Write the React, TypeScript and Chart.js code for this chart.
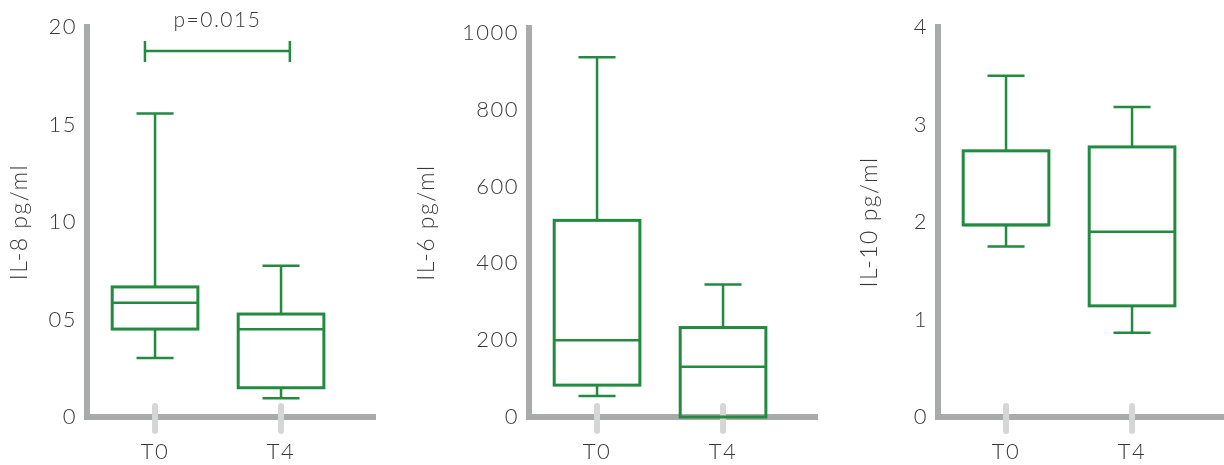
import React, { useEffect, useRef } from 'react';
import { Chart, registerables } from 'chart.js';

Chart.register(...registerables);

// ---------- data ----------
const categories = ['T0', 'T4'];
const categoryPositions = [1, 2];

// IL-8 (pg/ml)
const il8Min = [3.03, 0.96];
const il8Q1 = [4.51, 1.5];
const il8Median = [5.86, 4.5];
const il8Q3 = [6.67, 5.28];
const il8Max = [15.57, 7.76];
const il8Ticks = [0, 5, 10, 15, 20];
const il8TickLabels = ['0', '05', '10', '15', '20'];

// IL-6 (pg/ml)
const il6Min = [55, 0];
const il6Q1 = [83, 0];
const il6Median = [200, 131];
const il6Q3 = [512, 233];
const il6Max = [937, 345];
const il6Ticks = [0, 200, 400, 600, 800, 1000];
const il6TickLabels = ['0', '200', '400', '600', '800', '1000'];

// IL-10 (pg/ml)
const il10Min = [1.75, 0.865];
const il10Q1 = [1.97, 1.14];
const il10Median = [1.97, 1.9];
const il10Q3 = [2.73, 2.77];
const il10Max = [3.5, 3.18];
const il10Ticks = [0, 1, 2, 3, 4];
const il10TickLabels = ['0', '1', '2', '3', '4'];

// significance bracket on IL-8
const pValueLabel = 'p=0.015';
const bracketValue = 18.77;
const bracketFrom = 0.92;
const bracketTo = 2.07;

// ---------- style ----------
const GREEN = '#238b3f';
const AXIS = '#a9abaa';
const TICK = '#d6d6d6';
const TEXT = '#383838';
const FONT_FAMILY = 'Lato, "Open Sans", sans-serif';
const LETTER_SPACING = '1.5px';
const BOX_HALF = 0.34;
const CAP_HALF = 0.147;
const X_MIN = 0.46;
const PX_PER_CAT = 126;

type Panel = {
  title: string;
  min: number[];
  q1: number[];
  median: number[];
  q3: number[];
  max: number[];
  ticks: number[];
  tickLabels: string[];
  yMax: number;
  left: number;
  width: number;
  axisX: number;
  right: number;
  top: number;
  bracket?: boolean;
};

const panels: Panel[] = [
  {
    title: 'IL-8 pg/ml', min: il8Min, q1: il8Q1, median: il8Median, q3: il8Q3, max: il8Max,
    ticks: il8Ticks, tickLabels: il8TickLabels, yMax: 20,
    left: 0, width: 400, axisX: 87, right: 375, top: 27, bracket: true,
  },
  {
    title: 'IL-6 pg/ml', min: il6Min, q1: il6Q1, median: il6Median, q3: il6Q3, max: il6Max,
    ticks: il6Ticks, tickLabels: il6TickLabels, yMax: 1013,
    left: 407, width: 413, axisX: 529, right: 817, top: 28,
  },
  {
    title: 'IL-10 pg/ml', min: il10Min, q1: il10Q1, median: il10Median, q3: il10Q3, max: il10Max,
    ticks: il10Ticks, tickLabels: il10TickLabels, yMax: 4,
    left: 850, width: 374, axisX: 938, right: 1224, top: 27,
  },
];

const HEIGHT = 465;
const BOTTOM = 417;

function boxPlugin(p: Panel) {
  return {
    id: 'boxes',
    beforeDraw(chart: any) {
      chart.ctx.letterSpacing = LETTER_SPACING;
    },
    afterDraw(chart: any) {
      const { ctx, chartArea } = chart;
      const x = chart.scales.x;
      const y = chart.scales.y;
      ctx.save();
      // category tick marks crossing the axis
      ctx.strokeStyle = TICK;
      ctx.lineWidth = 6;
      ctx.lineCap = 'round';
      categoryPositions.forEach((v) => {
        const px = x.getPixelForValue(v);
        ctx.beginPath();
        ctx.moveTo(px, chartArea.bottom - 11);
        ctx.lineTo(px, chartArea.bottom + 14);
        ctx.stroke();
      });
      // boxes
      ctx.strokeStyle = GREEN;
      ctx.lineCap = 'butt';
      categoryPositions.forEach((v, i) => {
        const cx = x.getPixelForValue(v);
        const bl = x.getPixelForValue(v - BOX_HALF);
        const br = x.getPixelForValue(v + BOX_HALF);
        const cl = x.getPixelForValue(v - CAP_HALF);
        const cr = x.getPixelForValue(v + CAP_HALF);
        const yMin = y.getPixelForValue(p.min[i]);
        const yQ1 = y.getPixelForValue(p.q1[i]);
        const yMed = y.getPixelForValue(p.median[i]);
        const yQ3 = y.getPixelForValue(p.q3[i]);
        const yMax = y.getPixelForValue(p.max[i]);
        ctx.lineWidth = 2.5;
        ctx.beginPath();
        ctx.moveTo(cx, yQ3); ctx.lineTo(cx, yMax);
        ctx.moveTo(cl, yMax); ctx.lineTo(cr, yMax);
        if (yMin - yQ1 > 0.5) {
          ctx.moveTo(cx, yQ1); ctx.lineTo(cx, yMin);
          ctx.moveTo(cl, yMin); ctx.lineTo(cr, yMin);
        }
        ctx.stroke();
        ctx.lineWidth = 3;
        ctx.strokeRect(bl, yQ3, br - bl, yQ1 - yQ3);
        ctx.lineWidth = 2.5;
        ctx.beginPath();
        ctx.moveTo(bl, yMed); ctx.lineTo(br, yMed);
        ctx.stroke();
      });
      // significance bracket
      if (p.bracket) {
        const x1 = x.getPixelForValue(bracketFrom);
        const x2 = x.getPixelForValue(bracketTo);
        const by = y.getPixelForValue(bracketValue);
        ctx.lineWidth = 2.5;
        ctx.beginPath();
        ctx.moveTo(x1, by); ctx.lineTo(x2, by);
        ctx.moveTo(x1, by - 10); ctx.lineTo(x1, by + 11);
        ctx.moveTo(x2, by - 10); ctx.lineTo(x2, by + 11);
        ctx.stroke();
        ctx.fillStyle = TEXT;
        ctx.font = `300 21px ${FONT_FAMILY}`;
        ctx.textAlign = 'center';
        ctx.textBaseline = 'middle';
        ctx.fillText(pValueLabel, (x1 + x2) / 2, by - 31);
      }
      ctx.restore();
    },
  };
}

function BoxPanel({ p }: { p: Panel }) {
  const ref = useRef<HTMLCanvasElement>(null);
  useEffect(() => {
    const font = { family: FONT_FAMILY, size: 22, weight: '300' as any };
    const xMax = X_MIN + (p.right - p.axisX) / PX_PER_CAT;
    const chart = new Chart(ref.current as HTMLCanvasElement, {
      type: 'scatter',
      data: { datasets: [{ data: [] }] },
      options: {
        animation: false,
        responsive: false,
        maintainAspectRatio: false,
        devicePixelRatio: 1,
        layout: { padding: { left: 0, top: p.top, right: p.left + p.width - p.right, bottom: 0 } },
        plugins: { legend: { display: false }, tooltip: { enabled: false } },
        scales: {
          x: {
            type: 'linear',
            min: X_MIN,
            max: xMax,
            grid: { display: false, drawTicks: false },
            border: { color: AXIS, width: 6 },
            afterBuildTicks: (s: any) => { s.ticks = categoryPositions.map((v) => ({ value: v })); },
            afterFit: (s: any) => { s.height = HEIGHT - BOTTOM; },
            ticks: {
              callback: (v: any) => categories[categoryPositions.indexOf(Number(v))] ?? '',
              padding: 22,
              font,
              color: TEXT,
              maxRotation: 0,
              autoSkip: false,
            },
          },
          y: {
            type: 'linear',
            min: 0,
            max: p.yMax,
            grid: { display: false, drawTicks: false },
            border: { color: AXIS, width: 6 },
            afterBuildTicks: (s: any) => { s.ticks = p.ticks.map((v) => ({ value: v })); },
            afterFit: (s: any) => { s.width = p.axisX - p.left; },
            ticks: {
              callback: (_v: any, i: number) => p.tickLabels[i],
              padding: 10,
              font,
              color: TEXT,
            },
            title: {
              display: true,
              text: p.title,
              font: { family: FONT_FAMILY, size: 23, weight: '300' as any },
              color: TEXT,
              padding: { top: 6, bottom: 0 },
            },
          },
        },
      },
      plugins: [boxPlugin(p)],
    } as any);
    return () => chart.destroy();
  }, [p]);
  return (
    <canvas
      ref={ref}
      width={p.width}
      height={HEIGHT}
      style={{ position: 'absolute', left: p.left, top: 0, width: p.width, height: HEIGHT }}
    />
  );
}

export default function App() {
  return (
    <div style={{ position: 'fixed', left: 0, top: 0, width: 1224, height: HEIGHT, background: '#fff' }}>
      {panels.map((p) => (
        <BoxPanel key={p.title} p={p} />
      ))}
    </div>
  );
}
